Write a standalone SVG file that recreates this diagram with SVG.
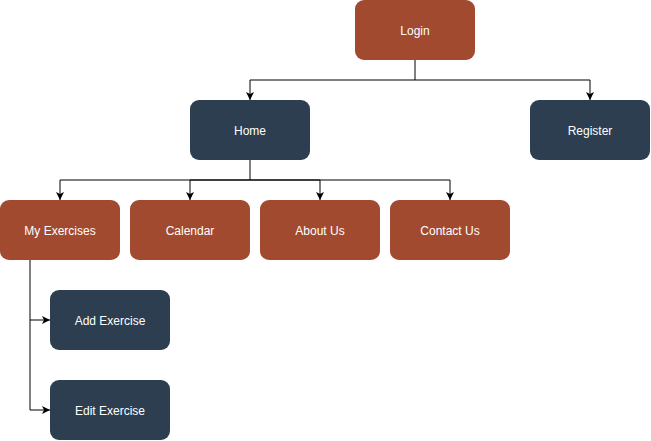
<svg xmlns="http://www.w3.org/2000/svg" width="651" height="441" viewBox="0 0 651 441">
<style>
.o{fill:#A24A2F}
.d{fill:#2C3E50}
text{font-family:"Liberation Sans",Arial,sans-serif;font-size:12px;fill:#fff;text-anchor:middle;dominant-baseline:central}
.c{fill:none;stroke:#000;stroke-width:1}
</style>
<defs>
<marker id="a" markerWidth="8" markerHeight="8" viewBox="0 0 8 8" refX="8" refY="4" orient="auto" markerUnits="userSpaceOnUse">
<path d="M0,0 L8,4 L0,8 L2,4 Z" fill="#000"/>
</marker>
</defs>
<g id="connectors">
<path class="c" d="M415,60 V80 H250 V100" marker-end="url(#a)"/>
<path class="c" d="M415,80 H590 V100" marker-end="url(#a)"/>
<path class="c" d="M250,160 V180 H60 V200" marker-end="url(#a)"/>
<path class="c" d="M250,180 H190 V200" marker-end="url(#a)"/>
<path class="c" d="M250,180 H320 V200" marker-end="url(#a)"/>
<path class="c" d="M250,180 H450 V200" marker-end="url(#a)"/>
<path class="c" d="M30,260 V320 H50" marker-end="url(#a)"/>
<path class="c" d="M30,320 V410 H50" marker-end="url(#a)"/>
</g>
<g id="login"><rect class="o" x="355" y="0" width="120" height="60" rx="9"/><text x="415" y="31">Login</text></g>
<g id="home"><rect class="d" x="190" y="100" width="120" height="60" rx="9"/><text x="250" y="131">Home</text></g>
<g id="register"><rect class="d" x="530" y="100" width="120" height="60" rx="9"/><text x="590" y="131">Register</text></g>
<g id="my-exercises"><rect class="o" x="0" y="200" width="120" height="60" rx="9"/><text x="60" y="231">My Exercises</text></g>
<g id="calendar"><rect class="o" x="130" y="200" width="120" height="60" rx="9"/><text x="190" y="231">Calendar</text></g>
<g id="about-us"><rect class="o" x="260" y="200" width="120" height="60" rx="9"/><text x="320" y="231">About Us</text></g>
<g id="contact-us"><rect class="o" x="390" y="200" width="120" height="60" rx="9"/><text x="450" y="231">Contact Us</text></g>
<g id="add-exercise"><rect class="d" x="50" y="290" width="120" height="60" rx="9"/><text x="110" y="321">Add Exercise</text></g>
<g id="edit-exercise"><rect class="d" x="50" y="380" width="120" height="60" rx="9"/><text x="110" y="411">Edit Exercise</text></g>
</svg>
